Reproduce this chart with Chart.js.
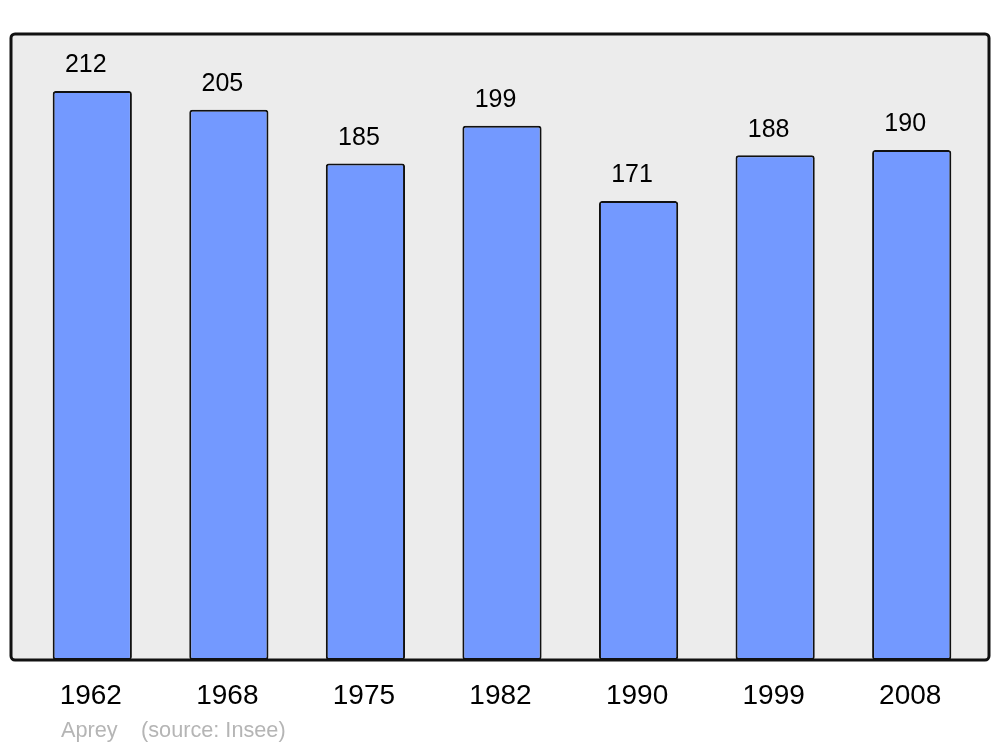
<!DOCTYPE html>
<html><head><meta charset="utf-8">
<script src="https://cdn.jsdelivr.net/npm/chart.js@4/dist/chart.umd.min.js"></script>
<style>html,body{margin:0;padding:0;background:#fff}#wrap{width:1000px;height:747px}</style>
</head><body><div id="wrap"><canvas id="c" width="1000" height="747"></canvas></div>
<script>
const years = ["1962","1968","1975","1982","1990","1999","2008"];
const population = [212,205,185,199,171,188,190];
const placeName = "Aprey";
const sourceText = "(source: Insee)";

const frame = {
  id: 'frame',
  beforeDatasetsDraw(chart) {
    const ctx = chart.ctx, a = chart.chartArea;
    ctx.save();
    ctx.beginPath();
    ctx.roundRect(11, a.top, 978, a.bottom - a.top, 4);
    ctx.fillStyle = '#ececec';
    ctx.fill();
    ctx.restore();
  },
  afterDatasetsDraw(chart) {
    const ctx = chart.ctx, a = chart.chartArea;
    const xs = chart.scales.x, ys = chart.scales.y;
    ctx.save();
    ctx.beginPath();
    ctx.roundRect(11, a.top, 978, a.bottom - a.top, 4);
    ctx.lineWidth = 3;
    ctx.strokeStyle = '#111';
    ctx.stroke();
    ctx.fillStyle = '#000';
    ctx.textAlign = 'center';
    ctx.textBaseline = 'middle';
    ctx.font = '25px "Liberation Sans", Arial, sans-serif';
    population.forEach((v, i) => {
      ctx.fillText(String(v), xs.getPixelForValue(i) - 6.5, ys.getPixelForValue(v) - 25.5);
    });
    ctx.font = '28px "Liberation Sans", Arial, sans-serif';
    years.forEach((y, i) => {
      ctx.fillText(y, xs.getPixelForValue(i) - 1.5, 696.5);
    });
    ctx.fillStyle = '#b5b5b5';
    ctx.textAlign = 'left';
    ctx.font = '21.7px "Liberation Sans", Arial, sans-serif';
    ctx.fillText(placeName, 61, 731);
    ctx.fillText(sourceText, 141, 731);
    ctx.restore();
  }
};

new Chart(document.getElementById('c'), {
  type: 'bar',
  data: {
    labels: years,
    datasets: [{
      data: population,
      backgroundColor: '#7399ff',
      borderColor: '#111',
      borderWidth: 2,
      borderRadius: 3,
      borderSkipped: false,
      barPercentage: 0.58,
      categoryPercentage: 1
    }]
  },
  options: {
    responsive: false,
    animation: false,
    devicePixelRatio: 1,
    layout: { padding: { left: 24, right: 20, top: 34, bottom: 87 } },
    plugins: { legend: { display: false }, tooltip: { enabled: false } },
    scales: {
      x: { display: false },
      y: { display: false, min: 0, max: 233.2 }
    }
  },
  plugins: [frame]
});
</script></body></html>
